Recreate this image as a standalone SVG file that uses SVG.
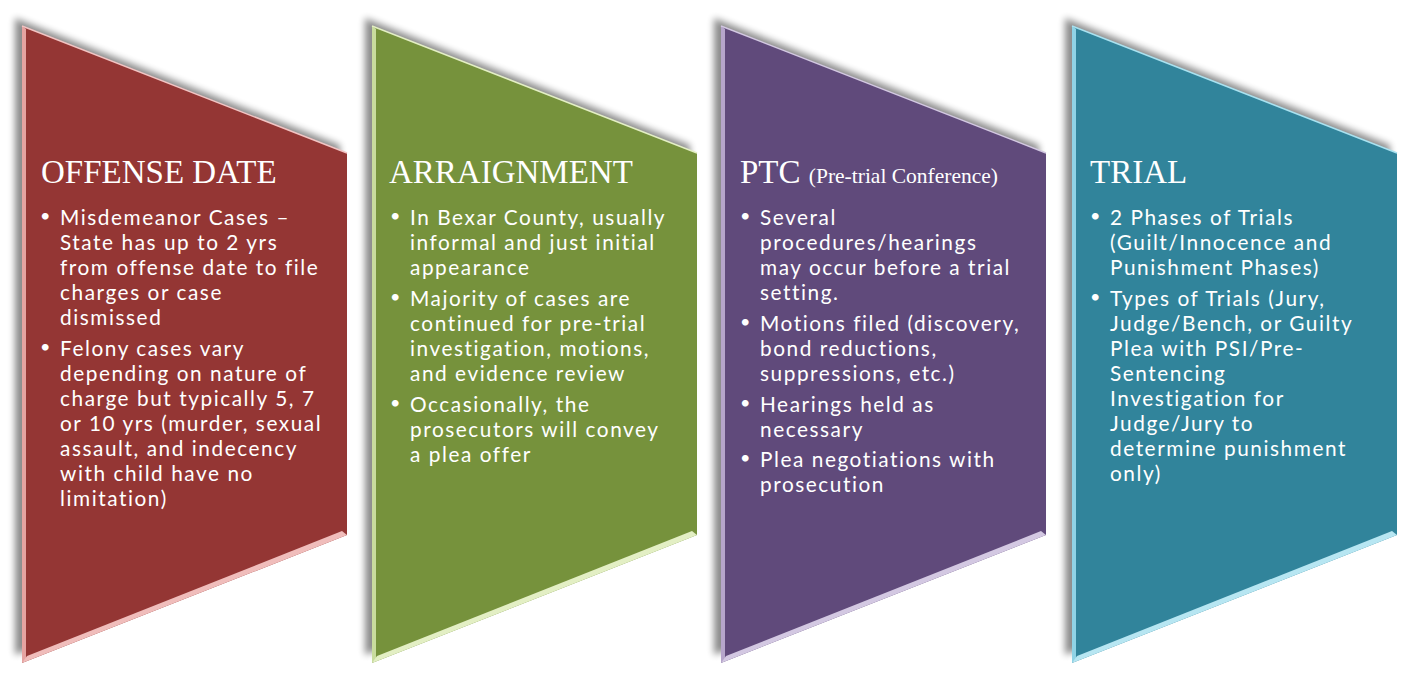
<svg xmlns="http://www.w3.org/2000/svg" width="1410" height="678" viewBox="0 0 1410 678">
<style>
.title{font-family:"Liberation Serif","Times New Roman",serif;font-size:33px;fill:#ffffff}
.sub{font-size:21.5px}
.body{font-family:Lato,"Open Sans",sans-serif;font-size:20.8px;fill:#ffffff;letter-spacing:1.55px}
.bul{font-family:Lato,"Open Sans",sans-serif;font-size:18px;fill:#ffffff}
.shadow{fill:#000000;opacity:0.45;filter:url(#blur)}
</style>
<defs>
<filter id="blur" x="-10%" y="-10%" width="120%" height="120%"><feGaussianBlur stdDeviation="3.5"/></filter>
<polygon id="shape" points="0,26 325,153 325,535 0,663"/>
<polygon id="lstrip" points="0,26 4,29 4,659 0,663"/>
<polygon id="bstrip" points="0,663 325,535 320,531 5,656"/>
</defs>

<g id="node-offense">
<use href="#shape" class="shadow" x="15" y="-8"/>
<use href="#shape" x="22" fill="#943634"/>
<use href="#lstrip" x="22" fill="#E6A3A1"/>
<use href="#bstrip" x="22" fill="#F0BDBB"/>
<line x1="22" y1="26" x2="347" y2="153" stroke="#F2C4C3" stroke-width="1.5"/>
<text class="title" x="41" y="183">OFFENSE DATE</text>
<g class="bul"><text x="40" y="222">•</text><text x="40" y="353">•</text></g>
<text class="body">
<tspan x="60" y="225">Misdemeanor Cases –</tspan>
<tspan x="60" y="250">State has up to 2 yrs</tspan>
<tspan x="60" y="275">from offense date to file</tspan>
<tspan x="60" y="300">charges or case</tspan>
<tspan x="60" y="325">dismissed</tspan>
<tspan x="60" y="356">Felony cases vary</tspan>
<tspan x="60" y="381">depending on nature of</tspan>
<tspan x="60" y="406">charge but typically 5, 7</tspan>
<tspan x="60" y="431">or 10 yrs (murder, sexual</tspan>
<tspan x="60" y="456">assault, and indecency</tspan>
<tspan x="60" y="481">with child have no</tspan>
<tspan x="60" y="506">limitation)</tspan>
</text>
</g>

<g id="node-arraignment">
<use href="#shape" class="shadow" x="365" y="-8"/>
<use href="#shape" x="372" fill="#76923C"/>
<use href="#lstrip" x="372" fill="#C9DC9E"/>
<use href="#bstrip" x="372" fill="#E3EFC4"/>
<line x1="372" y1="26" x2="697" y2="153" stroke="#E3EFC4" stroke-width="1.5"/>
<text class="title" x="389" y="183">ARRAIGNMENT</text>
<g class="bul"><text x="390" y="222">•</text><text x="390" y="303">•</text><text x="390" y="409">•</text></g>
<text class="body">
<tspan x="410" y="225">In Bexar County, usually</tspan>
<tspan x="410" y="250">informal and just initial</tspan>
<tspan x="410" y="275">appearance</tspan>
<tspan x="410" y="306">Majority of cases are</tspan>
<tspan x="410" y="331">continued for pre-trial</tspan>
<tspan x="410" y="356">investigation, motions,</tspan>
<tspan x="410" y="381">and evidence review</tspan>
<tspan x="410" y="412">Occasionally, the</tspan>
<tspan x="410" y="437">prosecutors will convey</tspan>
<tspan x="410" y="462">a plea offer</tspan>
</text>
</g>

<g id="node-ptc">
<use href="#shape" class="shadow" x="714" y="-8"/>
<use href="#shape" x="721" fill="#604A7B"/>
<use href="#lstrip" x="721" fill="#B6A5CB"/>
<use href="#bstrip" x="721" fill="#D3C8E2"/>
<line x1="721" y1="26" x2="1046" y2="153" stroke="#D3C8E2" stroke-width="1.5"/>
<text class="title" x="740" y="183">PTC <tspan class="sub">(Pre-trial Conference)</tspan></text>
<g class="bul"><text x="740" y="222">•</text><text x="740" y="328">•</text><text x="740" y="409">•</text><text x="740" y="464">•</text></g>
<text class="body">
<tspan x="760" y="225">Several</tspan>
<tspan x="760" y="250">procedures/hearings</tspan>
<tspan x="760" y="275">may occur before a trial</tspan>
<tspan x="760" y="300">setting.</tspan>
<tspan x="760" y="331">Motions filed (discovery,</tspan>
<tspan x="760" y="356">bond reductions,</tspan>
<tspan x="760" y="381">suppressions, etc.)</tspan>
<tspan x="760" y="412">Hearings held as</tspan>
<tspan x="760" y="437">necessary</tspan>
<tspan x="760" y="467">Plea negotiations with</tspan>
<tspan x="760" y="492">prosecution</tspan>
</text>
</g>

<g id="node-trial">
<use href="#shape" class="shadow" x="1065" y="-8"/>
<use href="#shape" x="1072" fill="#31849B"/>
<use href="#lstrip" x="1072" fill="#8FD3E6"/>
<use href="#bstrip" x="1072" fill="#B7E6F2"/>
<line x1="1072" y1="26" x2="1397" y2="153" stroke="#A9E2F0" stroke-width="1.5"/>
<text class="title" x="1090" y="183">TRIAL</text>
<g class="bul"><text x="1090" y="222">•</text><text x="1090" y="303">•</text></g>
<text class="body">
<tspan x="1110" y="225">2 Phases of Trials</tspan>
<tspan x="1110" y="250">(Guilt/Innocence and</tspan>
<tspan x="1110" y="275">Punishment Phases)</tspan>
<tspan x="1110" y="306">Types of Trials (Jury,</tspan>
<tspan x="1110" y="331">Judge/Bench, or Guilty</tspan>
<tspan x="1110" y="356">Plea with PSI/Pre-</tspan>
<tspan x="1110" y="381">Sentencing</tspan>
<tspan x="1110" y="406">Investigation for</tspan>
<tspan x="1110" y="431">Judge/Jury to</tspan>
<tspan x="1110" y="456">determine punishment</tspan>
<tspan x="1110" y="481">only)</tspan>
</text>
</g>

<g id="connectors"></g>
</svg>
